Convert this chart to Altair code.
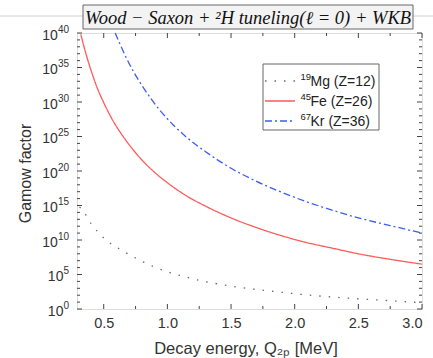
import altair as alt
import pandas as pd

# ---- data (log10 of Gamow factor) ----
mg_E = [0.31, 0.337, 0.40, 0.506, 0.662, 0.897, 1.184, 1.497, 1.81, 2.12, 2.44, 2.75, 3.0]
mg_logG = [14.8, 14.25, 12.4, 10.2, 8.3, 6.1, 4.45, 3.33, 2.6, 2.0, 1.55, 1.2, 0.9]

fe_E = [0.32, 0.36, 0.40, 0.45, 0.50, 0.56, 0.63, 0.70, 0.80, 0.90, 1.0, 1.15, 1.3, 1.5,
        1.7, 1.9, 2.1, 2.3, 2.5, 2.75, 3.0]
fe_logG = [39.8, 37.0, 34.6, 32.0, 29.9, 27.7, 25.6, 23.8, 21.6, 19.8, 18.3, 16.4, 14.9, 13.2,
           11.8, 10.6, 9.6, 8.8, 8.0, 7.2, 6.5]

kr_E = [0.59, 0.63, 0.68, 0.74, 0.80, 0.87, 0.95, 1.05, 1.15, 1.3, 1.5, 1.7, 1.9, 2.1, 2.3,
        2.5, 2.75, 3.0]
kr_logG = [40.0, 38.3, 36.3, 34.2, 32.4, 30.5, 28.6, 26.6, 24.9, 22.8, 20.4, 18.5, 16.9, 15.5,
           14.3, 13.2, 12.1, 11.0]

series_names = ["19Mg", "45Fe", "67Kr"]
legend_mass = ["19", "45", "67"]
legend_text = ["Mg (Z=12)", "Fe (Z=26)", "Kr (Z=36)"]
series_colors = ["#6a6a6a", "#ff5a5a", "#3f5cf0"]
series_dash = [[1.5, 8], [1, 0], [7, 3, 2, 3]]

x_major = [0.5, 1.0, 1.5, 2.0, 2.5, 3.0]
x_minor = [0.75, 1.25, 1.75, 2.25, 2.75]
y_major_exp = [0, 5, 10, 15, 20, 25, 30, 35, 40]
y_minor_exp = [e for e in range(0, 41) if e % 5 != 0]

title_text = "Wood \u2212 Saxon +  \u00b2H tuneling(\u2113 = 0) + WKB"
x_title = "Decay energy, Q\u2082\u209a [MeV]"
y_title = "Gamow factor"

# ---- tables ----
rows = []
for name, Es, Ls in zip(series_names, [mg_E, fe_E, kr_E], [mg_logG, fe_logG, kr_logG]):
    for e, l in zip(Es, Ls):
        rows.append({"nucleus": name, "E": e, "G": 10.0 ** l})
df = pd.DataFrame(rows)

W, H = 345, 276
FONT = "Liberation Sans"
TXT = "#333"
xscale = alt.Scale(domain=[0.29, 3.0], nice=False, zero=False)
yscale = alt.Scale(type="log", domain=[1, 1e40], nice=False)

x_axis = alt.Axis(values=x_major, format=".1f", tickSize=0, domain=False, grid=False,
                  labelFontSize=14.5, labelColor=TXT, labelPadding=7, labelFont=FONT,
                  title=x_title, titleFontSize=16.5, titleFontWeight="normal",
                  titleColor=TXT, titleFont=FONT,
                  titleY=39, titleX=W / 2 - 4, titleBaseline="middle")
y_axis = alt.Axis(values=[10.0 ** e for e in y_major_exp], labels=False, tickSize=0,
                  domain=False, grid=False,
                  title=y_title, titleFontSize=16, titleFontWeight="normal",
                  titleColor=TXT, titleFont=FONT,
                  titleX=-52, titleY=H / 2 + 2, titleAngle=-90, titleAlign="center",
                  titleBaseline="middle")

lines = alt.Chart(df).mark_line(interpolate="monotone", strokeWidth=1.3).encode(
    x=alt.X("E:Q", scale=xscale, axis=x_axis),
    y=alt.Y("G:Q", scale=yscale, axis=y_axis),
    color=alt.Color("nucleus:N", scale=alt.Scale(domain=series_names, range=series_colors),
                    legend=None),
    strokeDash=alt.StrokeDash("nucleus:N",
                              scale=alt.Scale(domain=series_names, range=series_dash),
                              legend=None),
)

# ---- ticks (inward) ----
ymaj = pd.DataFrame({"G": [10.0 ** e for e in y_major_exp]})
ymin = pd.DataFrame({"G": [10.0 ** e for e in y_minor_exp]})
xmaj = pd.DataFrame({"E": x_major})
xmin = pd.DataFrame({"E": x_minor})

tick_color = "#444"
def ytick(data, x0, x1):
    return alt.Chart(data).mark_rule(color=tick_color, strokeWidth=1).encode(
        y=alt.Y("G:Q", scale=yscale, axis=y_axis), x=alt.value(x0), x2=alt.value(x1))

def xtick(data, y0, y1):
    return alt.Chart(data).mark_rule(color=tick_color, strokeWidth=1).encode(
        x=alt.X("E:Q", scale=xscale, axis=x_axis), y=alt.value(y0), y2=alt.value(y1))

ticks = [
    ytick(ymaj, 0, 5), ytick(ymin, 0, 3), ytick(ymaj, W, W - 5), ytick(ymin, W, W - 3),
    xtick(xmaj, H, H - 5), xtick(xmin, H, H - 3), xtick(xmaj, 0, 5), xtick(xmin, 0, 3),
]

# ---- y tick labels: 10 with superscript exponent ----
ylab = pd.DataFrame({"G": [10.0 ** e for e in y_major_exp],
                     "exp": [str(e) for e in y_major_exp],
                     "nd": [len(str(e)) for e in y_major_exp]})
SUP_FS, BASE_FS, LAB_RIGHT = 10, 14, -8
sup_layer = alt.Chart(ylab).mark_text(font=FONT, fontSize=SUP_FS, color=TXT, align="right",
                                      baseline="middle", dy=-3.5).encode(
    y=alt.Y("G:Q", scale=yscale, axis=y_axis), x=alt.value(LAB_RIGHT), text="exp:N")
base_layers = []
for nd in (1, 2):
    base_layers.append(
        alt.Chart(ylab[ylab["nd"] == nd]).mark_text(
            font=FONT, fontSize=BASE_FS, color=TXT, align="right", baseline="middle", dy=2.5
        ).encode(y=alt.Y("G:Q", scale=yscale, axis=y_axis),
                 x=alt.value(LAB_RIGHT - nd * SUP_FS * 0.556),
                 text=alt.value("10")))

# ---- title box ----
tdf = pd.DataFrame({"t": [title_text]})
bg_line = alt.Chart(tdf).mark_rule(color="#d0d0d0", strokeWidth=1).encode(
    x=alt.value(-77), x2=alt.value(W + 11), y=alt.value(-17))
title_box = alt.Chart(tdf).mark_rect(fill="#f3f3f3", stroke="#666", strokeWidth=1).encode(
    x=alt.value(6), x2=alt.value(336), y=alt.value(-28), y2=alt.value(-4))
title_txt = alt.Chart(tdf).mark_text(font="Liberation Serif", fontStyle="italic", fontSize=18.5,
                                     color="#111", align="center", baseline="middle").encode(
    text="t:N", x=alt.value(171), y=alt.value(-15.5))

# ---- legend (custom, to get real superscripts) ----
leg_box = alt.Chart(tdf).mark_rect(fill="white", stroke="#666", strokeWidth=1).encode(
    x=alt.value(186), x2=alt.value(302), y=alt.value(31), y2=alt.value(97))
legend_layers = [leg_box]
for i in range(3):
    ly = 48 + 20 * i
    ldf = pd.DataFrame({"m": [legend_mass[i]], "t": [legend_text[i]]})
    legend_layers.append(alt.Chart(ldf).mark_rule(
        color=series_colors[i], strokeDash=series_dash[i], strokeWidth=1.4).encode(
        x=alt.value(188), x2=alt.value(218), y=alt.value(ly)))
    legend_layers.append(alt.Chart(ldf).mark_text(
        font=FONT, fontSize=9.5, color="#222", align="left", baseline="middle", dy=-4).encode(
        x=alt.value(223.5), y=alt.value(ly), text="m:N"))
    legend_layers.append(alt.Chart(ldf).mark_text(
        font=FONT, fontSize=14, color="#222", align="left", baseline="middle", dy=1).encode(
        x=alt.value(233.5), y=alt.value(ly), text="t:N"))

chart = alt.layer(lines, bg_line, title_box, title_txt, *ticks, sup_layer, *base_layers,
                  *legend_layers).properties(
    width=W, height=H,
    padding={"left": 77, "top": 33, "right": 11, "bottom": 49},
    autosize=alt.AutoSizeParams(type="none"),
).configure_view(stroke="#444", strokeWidth=1.2).configure(background="white")

chart.save("out.html", embed_options={"renderer": "svg", "actions": False})
